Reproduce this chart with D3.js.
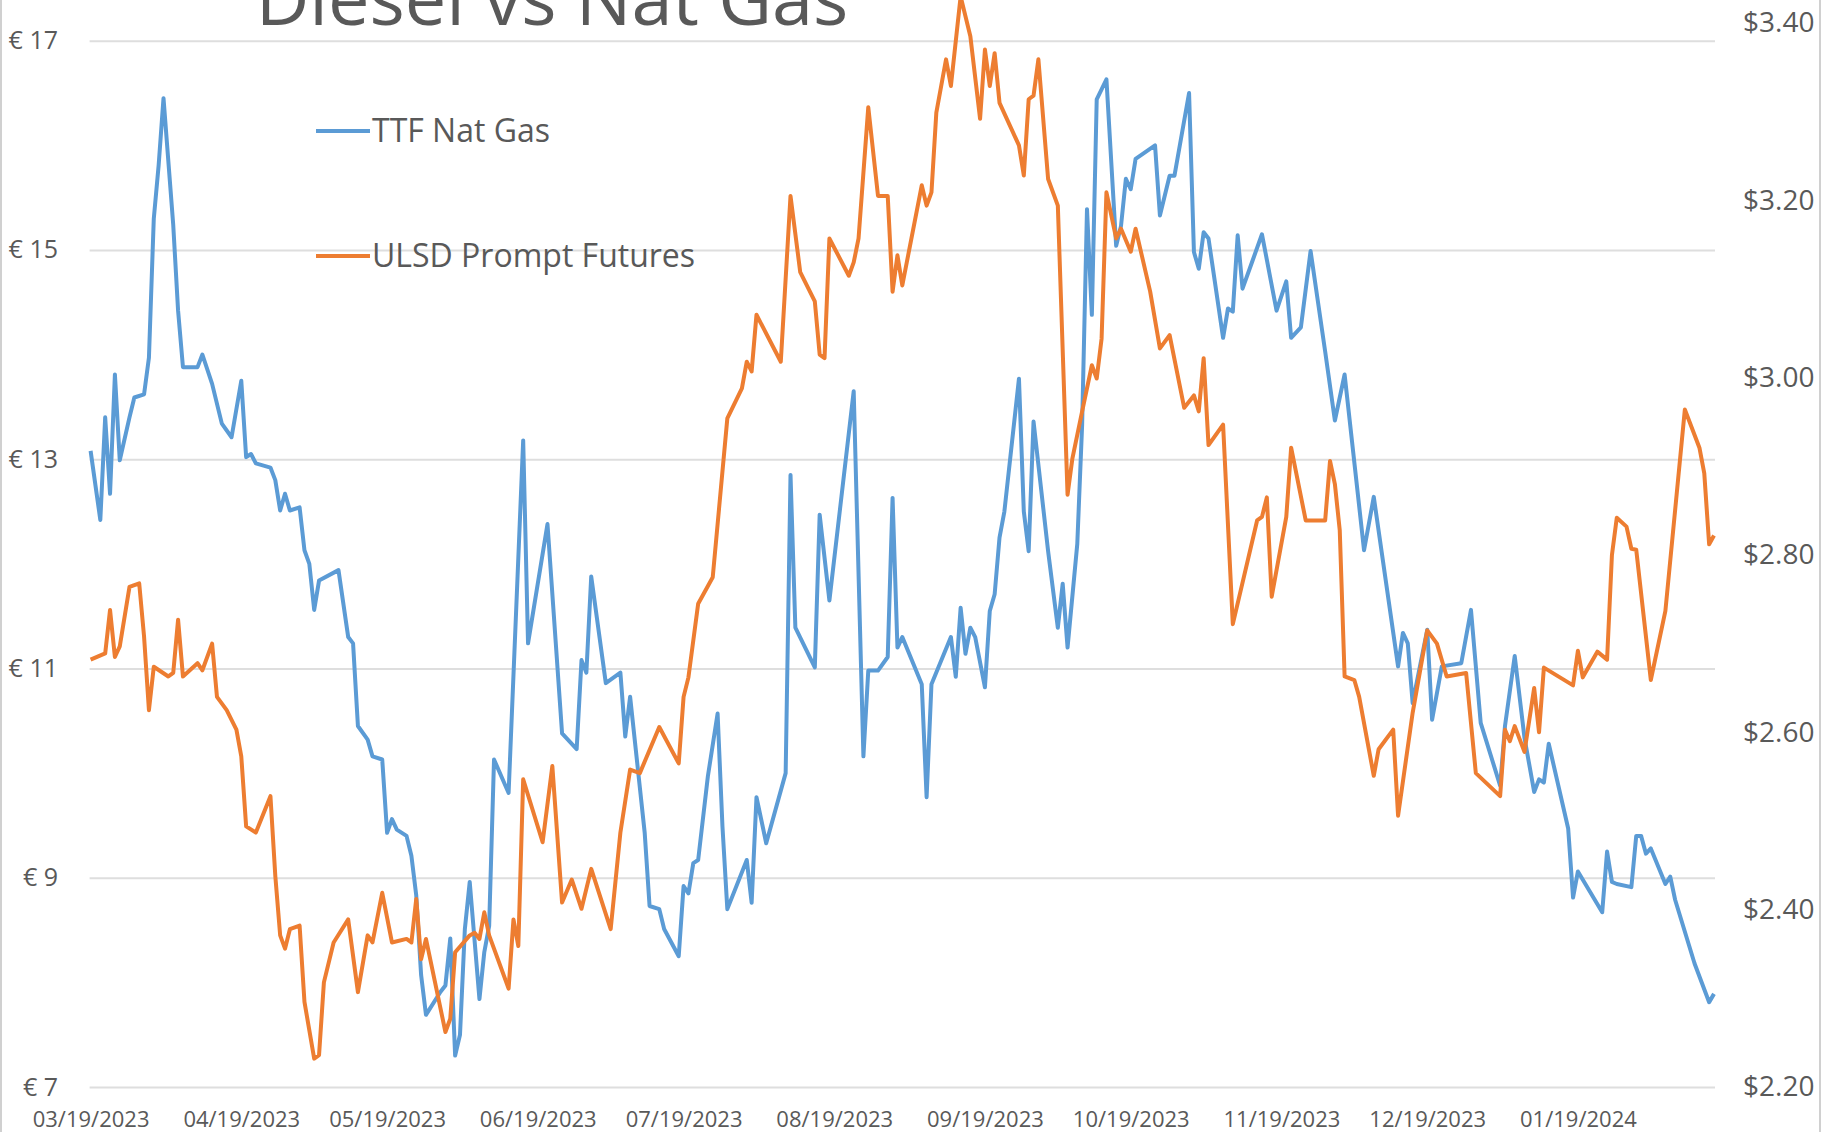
<!DOCTYPE html>
<html>
<head>
<meta charset="utf-8">
<script src="https://cdn.jsdelivr.net/npm/d3@7"></script>
<style>
  html, body { margin: 0; padding: 0; background: #ffffff; }
  svg text { fill: #595959; }
</style>
</head>
<body>
<div id="chart"></div>
<script>
// TTF Nat Gas (EUR) - left axis
const gasDates = ["2023-03-19","2023-03-21","2023-03-22","2023-03-23","2023-03-24","2023-03-25","2023-03-27","2023-03-28","2023-03-30","2023-03-31",
  "2023-04-01","2023-04-02","2023-04-03","2023-04-05","2023-04-06","2023-04-07","2023-04-10","2023-04-11","2023-04-13","2023-04-15",
  "2023-04-17","2023-04-19","2023-04-20","2023-04-21","2023-04-22","2023-04-25","2023-04-26","2023-04-27","2023-04-28","2023-04-29",
  "2023-05-01","2023-05-02","2023-05-03","2023-05-04","2023-05-05","2023-05-09","2023-05-11","2023-05-12","2023-05-13","2023-05-15",
  "2023-05-16","2023-05-18","2023-05-19","2023-05-20","2023-05-21","2023-05-23","2023-05-24","2023-05-25","2023-05-26","2023-05-27",
  "2023-05-30","2023-05-31","2023-06-01","2023-06-02","2023-06-03","2023-06-04","2023-06-05","2023-06-07","2023-06-08","2023-06-09",
  "2023-06-10","2023-06-13","2023-06-16","2023-06-17","2023-06-21","2023-06-24","2023-06-27","2023-06-28","2023-06-29","2023-06-30",
  "2023-07-03","2023-07-06","2023-07-07","2023-07-08","2023-07-11","2023-07-12","2023-07-14","2023-07-15","2023-07-18","2023-07-19",
  "2023-07-20","2023-07-21","2023-07-22","2023-07-24","2023-07-26","2023-07-27","2023-07-28","2023-08-01","2023-08-02","2023-08-03",
  "2023-08-05","2023-08-09","2023-08-10","2023-08-11","2023-08-15","2023-08-16","2023-08-18","2023-08-23","2023-08-25","2023-08-26",
  "2023-08-28","2023-08-30","2023-08-31","2023-09-01","2023-09-02","2023-09-06","2023-09-07","2023-09-08","2023-09-12","2023-09-13",
  "2023-09-14","2023-09-15","2023-09-16","2023-09-17","2023-09-19","2023-09-20","2023-09-21","2023-09-22","2023-09-23","2023-09-26",
  "2023-09-27","2023-09-28","2023-09-29","2023-10-02","2023-10-04","2023-10-05","2023-10-06","2023-10-08","2023-10-09","2023-10-10",
  "2023-10-11","2023-10-12","2023-10-14","2023-10-16","2023-10-17","2023-10-18","2023-10-19","2023-10-20","2023-10-24","2023-10-25",
  "2023-10-27","2023-10-28","2023-10-31","2023-11-01","2023-11-02","2023-11-03","2023-11-04","2023-11-07","2023-11-08","2023-11-09",
  "2023-11-10","2023-11-11","2023-11-13","2023-11-15","2023-11-18","2023-11-20","2023-11-21","2023-11-23","2023-11-25","2023-11-28",
  "2023-11-30","2023-12-02","2023-12-06","2023-12-08","2023-12-13","2023-12-14","2023-12-15","2023-12-16","2023-12-19","2023-12-20",
  "2023-12-22","2023-12-26","2023-12-28","2023-12-30","2024-01-03","2024-01-04","2024-01-06","2024-01-08","2024-01-10","2024-01-11",
  "2024-01-12","2024-01-13","2024-01-17","2024-01-18","2024-01-19","2024-01-24","2024-01-25","2024-01-26","2024-01-27","2024-01-30",
  "2024-01-31","2024-02-01","2024-02-02","2024-02-03","2024-02-06","2024-02-07","2024-02-08","2024-02-12","2024-02-15","2024-02-16"]
const gasValues = [13.08,12.42,13.40,12.67,13.81,12.99,13.40,13.59,13.62,13.97,
  15.30,15.81,16.45,15.24,14.42,13.88,13.88,14.00,13.72,13.34,
  13.21,13.75,13.02,13.05,12.96,12.92,12.80,12.51,12.67,12.51,
  12.54,12.13,12.00,11.56,11.84,11.94,11.30,11.24,10.45,10.32,
  10.16,10.13,9.43,9.56,9.46,9.40,9.21,8.83,8.07,7.69,
  7.91,7.97,8.42,7.30,7.50,8.51,8.96,7.84,8.29,8.54,
  10.13,9.81,13.18,11.24,12.38,10.38,10.23,11.08,10.96,11.88,
  10.86,10.96,10.35,10.73,9.43,8.73,8.70,8.51,8.25,8.92,
  8.85,9.14,9.17,9.97,10.57,9.49,8.70,9.17,8.76,9.77,
  9.33,10.00,12.85,11.39,11.01,12.47,11.65,13.65,10.16,10.98,
  10.98,11.11,12.63,11.20,11.30,10.85,9.77,10.85,11.30,10.92,
  11.58,11.14,11.39,11.30,10.82,11.55,11.71,12.25,12.50,13.77,
  12.50,12.12,13.36,12.12,11.39,11.81,11.20,12.19,13.33,15.39,
  14.38,16.44,16.63,15.04,15.23,15.68,15.58,15.87,16.00,15.33,
  15.71,15.71,16.50,14.98,14.82,15.17,15.11,14.16,14.44,14.41,
  15.14,14.63,14.89,15.15,14.42,14.70,14.16,14.26,14.99,14.03,
  13.37,13.81,12.13,12.64,11.02,11.34,11.24,10.67,11.37,10.51,
  11.02,11.05,11.56,10.48,9.88,10.45,11.12,10.34,9.82,9.94,
  9.91,10.28,9.47,8.81,9.06,8.67,9.25,8.96,8.94,8.91,
  9.40,9.40,9.23,9.28,8.94,9.01,8.79,8.18,7.81,7.89]

// ULSD Prompt Futures (USD) - right axis
const dieselDates = ["2023-03-19","2023-03-22","2023-03-23","2023-03-24","2023-03-25","2023-03-27","2023-03-29","2023-03-30","2023-03-31","2023-04-01",
  "2023-04-04","2023-04-05","2023-04-06","2023-04-07","2023-04-10","2023-04-11","2023-04-13","2023-04-14","2023-04-16","2023-04-18",
  "2023-04-19","2023-04-20","2023-04-22","2023-04-25","2023-04-26","2023-04-27","2023-04-28","2023-04-29","2023-05-01","2023-05-02",
  "2023-05-04","2023-05-05","2023-05-06","2023-05-08","2023-05-11","2023-05-13","2023-05-15","2023-05-16","2023-05-18","2023-05-20",
  "2023-05-23","2023-05-24","2023-05-25","2023-05-26","2023-05-27","2023-05-31","2023-06-01","2023-06-02","2023-06-05","2023-06-06",
  "2023-06-07","2023-06-08","2023-06-09","2023-06-13","2023-06-14","2023-06-15","2023-06-16","2023-06-20","2023-06-22","2023-06-24",
  "2023-06-26","2023-06-28","2023-06-30","2023-07-04","2023-07-06","2023-07-08","2023-07-10","2023-07-14","2023-07-18","2023-07-19",
  "2023-07-20","2023-07-22","2023-07-25","2023-07-28","2023-07-31","2023-08-01","2023-08-02","2023-08-03","2023-08-08","2023-08-10",
  "2023-08-12","2023-08-15","2023-08-16","2023-08-17","2023-08-18","2023-08-22","2023-08-23","2023-08-24","2023-08-26","2023-08-28",
  "2023-08-30","2023-08-31","2023-09-01","2023-09-02","2023-09-06","2023-09-07","2023-09-08","2023-09-09","2023-09-11","2023-09-12",
  "2023-09-14","2023-09-16","2023-09-18","2023-09-19","2023-09-20","2023-09-21","2023-09-22","2023-09-26","2023-09-27","2023-09-28",
  "2023-09-29","2023-09-30","2023-10-02","2023-10-04","2023-10-06","2023-10-07","2023-10-09","2023-10-11","2023-10-12","2023-10-13",
  "2023-10-14","2023-10-16","2023-10-17","2023-10-19","2023-10-20","2023-10-23","2023-10-25","2023-10-27","2023-10-30","2023-11-01",
  "2023-11-02","2023-11-03","2023-11-04","2023-11-07","2023-11-09","2023-11-14","2023-11-15","2023-11-16","2023-11-17","2023-11-20",
  "2023-11-21","2023-11-24","2023-11-28","2023-11-29","2023-11-30","2023-12-01","2023-12-02","2023-12-04","2023-12-05","2023-12-08",
  "2023-12-09","2023-12-12","2023-12-13","2023-12-16","2023-12-19","2023-12-21","2023-12-23","2023-12-27","2023-12-29","2024-01-03",
  "2024-01-04","2024-01-05","2024-01-06","2024-01-08","2024-01-10","2024-01-11","2024-01-12","2024-01-18","2024-01-19","2024-01-20",
  "2024-01-23","2024-01-25","2024-01-26","2024-01-27","2024-01-29","2024-01-30","2024-01-31","2024-02-03","2024-02-06","2024-02-10",
  "2024-02-13","2024-02-14","2024-02-15","2024-02-16"]
const dieselValues = [2.682,2.689,2.738,2.685,2.697,2.764,2.768,2.708,2.625,2.674,
  2.663,2.667,2.727,2.663,2.678,2.670,2.700,2.640,2.625,2.603,
  2.573,2.494,2.487,2.528,2.438,2.371,2.356,2.378,2.382,2.296,
  2.232,2.236,2.318,2.363,2.389,2.307,2.371,2.363,2.419,2.363,
  2.367,2.363,2.412,2.344,2.367,2.262,2.277,2.352,2.371,2.374,
  2.367,2.397,2.371,2.311,2.389,2.359,2.547,2.476,2.562,2.408,
  2.434,2.401,2.446,2.378,2.487,2.558,2.554,2.606,2.565,2.640,
  2.662,2.745,2.775,2.954,2.988,3.018,3.007,3.071,3.018,3.205,
  3.119,3.086,3.026,3.022,3.157,3.115,3.130,3.157,3.305,3.205,
  3.205,3.097,3.138,3.104,3.217,3.194,3.209,3.299,3.359,3.329,
  3.430,3.385,3.292,3.370,3.329,3.366,3.310,3.262,3.228,3.314,
  3.318,3.359,3.224,3.194,2.868,2.909,2.962,3.014,2.999,3.044,
  3.209,3.157,3.168,3.142,3.168,3.097,3.033,3.048,2.966,2.980,
  2.962,3.022,2.924,2.947,2.722,2.839,2.843,2.865,2.753,2.843,
  2.921,2.839,2.839,2.906,2.880,2.828,2.663,2.659,2.640,2.551,
  2.581,2.603,2.506,2.622,2.715,2.700,2.663,2.667,2.554,2.528,
  2.603,2.590,2.607,2.578,2.650,2.600,2.673,2.653,2.692,2.662,
  2.691,2.682,2.800,2.842,2.832,2.807,2.806,2.659,2.737,2.964,
  2.921,2.892,2.812,2.822]

const leftTicks = [7, 9, 11, 13, 15, 17]
const rightTicks = [2.2, 2.4, 2.6, 2.8, 3.0, 3.2, 3.4]
const xTickDates = ["2023-03-19","2023-04-19","2023-05-19","2023-06-19","2023-07-19","2023-08-19",
  "2023-09-19","2023-10-19","2023-11-19","2023-12-19","2024-01-19"]
const seriesNames = ["TTF Nat Gas", "ULSD Prompt Futures"]
const seriesColors = ["#5b9bd5", "#ed7d31"]

let dimensions = {
    width: 1822, height: 1132,
    plotLeft: 90.6, plotRight: 1714,
    plotBottom: 1087,
}

const parseDate = d3.timeParse("%Y-%m-%d")
const gas = gasDates.map((d, i) => ({ date: parseDate(d), value: gasValues[i] }))
const diesel = dieselDates.map((d, i) => ({ date: parseDate(d), value: dieselValues[i] }))

const svg = d3.select("#chart")
    .append("svg")
    .attr("width", dimensions.width)
    .attr("height", dimensions.height)

// outer frame of the chart area
svg.append("line").attr("x1", 1).attr("x2", 1).attr("y1", 0).attr("y2", dimensions.height)
    .attr("stroke", "#d0d0d0").attr("stroke-width", 2)
svg.append("line").attr("x1", 1820).attr("x2", 1820).attr("y1", 0).attr("y2", dimensions.height)
    .attr("stroke", "#d0d0d0").attr("stroke-width", 2)

var xScale = d3.scaleTime()
    .domain([parseDate("2023-03-19"), parseDate("2024-02-16")])
    .range([dimensions.plotLeft, dimensions.plotRight])
var yLeft = d3.scaleLinear().domain([7, 17]).range([dimensions.plotBottom, 40.7])
var yRight = d3.scaleLinear().domain([2.2, 3.4]).range([dimensions.plotBottom, 23])

// gridlines from left axis
const grid = d3.axisLeft(yLeft).tickValues(leftTicks)
    .tickSize(-(dimensions.plotRight - dimensions.plotLeft + 2)).tickFormat("")
svg.append("g")
    .attr("transform", `translate(${dimensions.plotLeft - 1},0)`)
    .call(grid)
    .call(g => g.select(".domain").remove())
    .call(g => g.selectAll("line").attr("stroke", "#dedede").attr("stroke-width", 2))

// left axis labels
const yAxisLeft = d3.axisLeft(yLeft).tickValues(leftTicks).tickSize(0).tickPadding(0)
    .tickFormat(d => "€ " + d)
svg.append("g")
    .attr("transform", "translate(58,0)")
    .call(yAxisLeft)
    .call(g => g.select(".domain").remove())
    .selectAll("text")
    .style("font-family", "'Open Sans', sans-serif")
    .style("font-size", "25px")
    .attr("fill", "#595959")

// right axis labels
const yAxisRight = d3.axisRight(yRight).tickValues(rightTicks).tickSize(0).tickPadding(0)
    .tickFormat(d => "$" + d3.format(".2f")(d))
svg.append("g")
    .attr("transform", "translate(1743,0)")
    .call(yAxisRight)
    .call(g => g.select(".domain").remove())
    .selectAll("text")
    .style("font-family", "'Open Sans', sans-serif")
    .style("font-size", "28px")
    .attr("fill", "#595959")

// date axis
const xAxis = d3.axisBottom(xScale)
    .tickValues(xTickDates.map(parseDate))
    .tickSize(0).tickPadding(0)
    .tickFormat(d3.timeFormat("%m/%d/%Y"))
svg.append("g")
    .attr("transform", "translate(0,1111)")
    .call(xAxis)
    .call(g => g.select(".domain").remove())
    .selectAll("text")
    .style("font-family", "'Open Sans', sans-serif")
    .style("font-size", "22px")
    .attr("fill", "#595959")

// lines
const gasLine = d3.line()
    .x(d => xScale(d.date))
    .y(d => yLeft(d.value))
const dieselLine = d3.line()
    .x(d => xScale(d.date))
    .y(d => yRight(d.value))

svg.append("path")
    .attr("d", gasLine(gas))
    .attr("fill", "none")
    .attr("stroke", seriesColors[0])
    .attr("stroke-width", 4)
    .attr("stroke-linejoin", "round")

svg.append("path")
    .attr("d", dieselLine(diesel))
    .attr("fill", "none")
    .attr("stroke", seriesColors[1])
    .attr("stroke-width", 4)
    .attr("stroke-linejoin", "round")

// title (top is cut off in the original)
svg.append("text")
    .attr("x", 552)
    .attr("y", 25)
    .attr("text-anchor", "middle")
    .style("font-family", "'Open Sans', sans-serif")
    .style("font-size", "74px")
    .attr("fill", "#595959")
    .text("Diesel vs Nat Gas")

// legend
var legend = svg.selectAll(".legend").data(seriesNames)
    .enter().append("g")
    .attr("class", "legend")
    .attr("transform", (d, i) => "translate(316," + (131 + i * 125) + ")")

legend.append("line")
    .attr("x1", 0).attr("x2", 54)
    .attr("stroke", (d, i) => seriesColors[i])
    .attr("stroke-width", 4)

legend.append("text")
    .attr("x", 56)
    .attr("dy", "0.35em")
    .style("font-family", "'Open Sans', sans-serif")
    .style("font-size", "32px")
    .attr("fill", "#595959")
    .text(d => d)
</script>
</body>
</html>
